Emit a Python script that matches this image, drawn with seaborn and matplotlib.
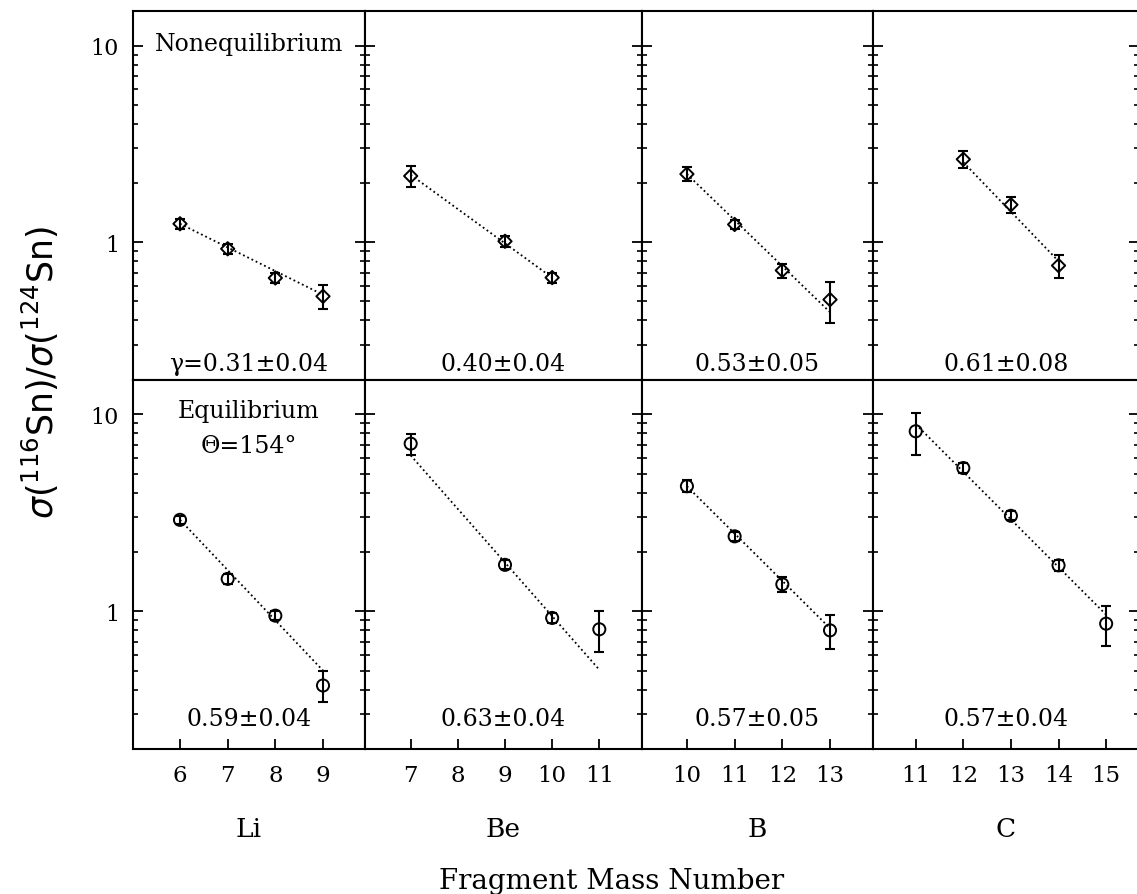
import numpy as np
import matplotlib
matplotlib.use("Agg")
import matplotlib.pyplot as plt
import seaborn as sns
from matplotlib.ticker import FixedLocator, LogLocator, NullFormatter, FixedFormatter

# ---------------- data ----------------
elements = ["Li", "Be", "B", "C"]
xticks = [[6, 7, 8, 9], [7, 8, 9, 10, 11], [10, 11, 12, 13], [11, 12, 13, 14, 15]]
xlims = [(5.014, 9.881), (6.031, 11.899), (9.052, 13.901), (10.103, 15.69)]

# Nonequilibrium (top row, diamonds)
neq_x = [[6, 7, 8, 9], [7, 9, 10], [10, 11, 12, 13], [12, 13, 14]]
neq_y = [[1.24, 0.925, 0.657, 0.53], [2.17, 1.01, 0.66], [2.22, 1.23, 0.718, 0.51], [2.64, 1.55, 0.76]]
neq_err = [[0.07, 0.05, 0.04, 0.075], [0.27, 0.06, 0.04], [0.18, 0.07, 0.06, 0.12], [0.27, 0.15, 0.10]]
neq_fit_x = [(6, 9), (7, 10), (10, 13), (12, 14)]
neq_fit_y = [(1.24, 0.54), (2.2, 0.66), (2.22, 0.44), (2.55, 0.80)]
neq_gamma = ["\u03b3=0.31\u00b10.04", "0.40\u00b10.04", "0.53\u00b10.05", "0.61\u00b10.08"]

# Equilibrium (bottom row, circles)
eq_x = [[6, 7, 8, 9], [7, 9, 10, 11], [10, 11, 12, 13], [11, 12, 13, 14, 15]]
eq_y = [[2.91, 1.46, 0.95, 0.42], [7.09, 1.72, 0.925, 0.81], [4.31, 2.40, 1.37, 0.80], [8.19, 5.33, 3.05, 1.71, 0.865]]
eq_err = [[0.14, 0.08, 0.05, 0.075], [0.85, 0.09, 0.05, 0.19], [0.3, 0.13, 0.12, 0.16], [2.0, 0.3, 0.16, 0.1, 0.2]]
eq_fit_x = [(6, 9), (7, 11), (10, 13), (11, 15)]
eq_fit_y = [(2.91, 0.50), (6.18, 0.505), (4.31, 0.82), (8.9, 0.96)]
eq_gamma = ["0.59\u00b10.04", "0.63\u00b10.04", "0.57\u00b10.05", "0.57\u00b10.04"]

ylim = (0.2, 15)
ytick_vals = [1, 10]
ytick_labels = ["1", "10"]

# ---------------- style ----------------
sns.set_style("ticks")
plt.rcParams["font.family"] = ["DejaVu Serif"]
plt.rcParams["mathtext.fontset"] = "dejavusans"
plt.rcParams["axes.linewidth"] = 1.4
for k in ["text.color", "axes.labelcolor", "xtick.color", "ytick.color", "axes.edgecolor"]:
    plt.rcParams[k] = "black"

W, H = 1137, 895
fig = plt.figure(figsize=(W / 100, H / 100), dpi=100)

col_edges = [133, 365, 641.7, 873, 1139]
row_edges = [12, 380.5, 750]

def make_ax(r, c):
    x0, x1 = col_edges[c], col_edges[c + 1]
    y0, y1 = row_edges[r], row_edges[r + 1]
    return fig.add_axes([x0 / W, 1 - y1 / H, (x1 - x0) / W, (y1 - y0) / H])

for r in range(2):
    for c in range(4):
        ax = make_ax(r, c)
        if r == 0:
            xs, ys, es, fx, fy, lab = neq_x[c], neq_y[c], neq_err[c], neq_fit_x[c], neq_fit_y[c], neq_gamma[c]
            marker, msize = "D", 46
        else:
            xs, ys, es, fx, fy, lab = eq_x[c], eq_y[c], eq_err[c], eq_fit_x[c], eq_fit_y[c], eq_gamma[c]
            marker, msize = "o", 76
        sns.lineplot(x=list(fx), y=list(fy), ax=ax, color="black", linestyle=(0, (1, 1.6)),
                     linewidth=1.3, legend=False)
        ax.errorbar(xs, ys, yerr=es, fmt="none", ecolor="black", elinewidth=1.5,
                    capsize=3.6, capthick=1.5, zorder=3)
        sns.scatterplot(x=xs, y=ys, ax=ax, marker=marker, s=msize, color="none",
                        edgecolor="black", linewidth=1.4, zorder=4, legend=False)
        ax.set_yscale("log")
        ax.set_ylim(*ylim)
        ax.set_xlim(*xlims[c])
        ax.yaxis.set_major_locator(FixedLocator(ytick_vals))
        ax.yaxis.set_major_formatter(FixedFormatter(ytick_labels))
        ax.yaxis.set_minor_locator(LogLocator(base=10, subs=np.arange(2, 10)))
        ax.yaxis.set_minor_formatter(NullFormatter())
        ax.tick_params(axis="y", which="major", direction="in", left=True, right=True,
                       length=7.5, width=1.3, labelsize=16, pad=10, labelleft=(c == 0))
        ax.tick_params(axis="y", which="minor", direction="in", left=True, right=True,
                       length=3.8, width=1.2)
        ax.set_xticks(xticks[c])
        ax.set_xticklabels([str(v) for v in xticks[c]])
        if r == 1:
            ax.tick_params(axis="x", which="major", direction="in", bottom=True, top=False,
                           length=7, width=1.3, labelsize=16.5, pad=11)
            ax.text(0.5, (750 - 836.7) / 369.5, elements[c], transform=ax.transAxes,
                    ha="center", va="baseline", fontsize=19)
            ax.text(0.5, 0.065, lab, transform=ax.transAxes, ha="center", va="baseline", fontsize=17)
        else:
            ax.tick_params(axis="x", which="both", bottom=False, top=False, labelbottom=False)
            ax.text(0.5, 0.025, lab, transform=ax.transAxes, ha="center", va="baseline", fontsize=17)
        ax.tick_params(axis="x", which="minor", bottom=False, top=False)
        for s in ax.spines.values():
            s.set_linewidth(1.5)
            s.set_color("black")
        ax.set_xlabel("")
        ax.set_ylabel("")
        if r == 0 and c == 0:
            ax.text(0.5, (380.5 - 45) / 368.5, "Nonequilibrium", transform=ax.transAxes,
                    ha="center", va="center", fontsize=17)
        if r == 1 and c == 0:
            ax.text(0.5, (750 - 411.7) / 369.5, "Equilibrium", transform=ax.transAxes,
                    ha="center", va="center", fontsize=17)
            ax.text(0.5, (750 - 446.7) / 369.5, "\u0398=154\u00b0", transform=ax.transAxes,
                    ha="center", va="center", fontsize=17)

fig.text(612 / W, 1 - 889 / H, "Fragment Mass Number", ha="center", va="baseline", fontsize=20)
fig.text(40 / W, 1 - 373 / H, r"$\sigma(^{116}\mathrm{Sn})/\sigma(^{124}\mathrm{Sn})$",
         rotation=90, ha="center", va="center", fontsize=25)

fig.savefig("out.png", dpi=100, facecolor="white")
